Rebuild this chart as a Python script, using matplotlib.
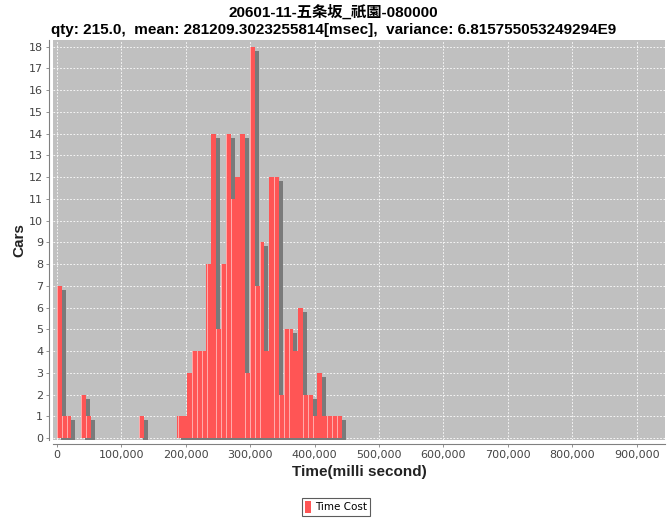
import numpy as np
import matplotlib
matplotlib.use("Agg")
import matplotlib.pyplot as plt
import matplotlib.transforms as mtransforms
from matplotlib.patches import Patch
from matplotlib.ticker import MultipleLocator, FuncFormatter
from matplotlib import font_manager

# ---------------- data ----------------
title1 = "20601-11-五条坂_祇園-080000"
title2 = "qty: 215.0,  mean: 281209.3023255814[msec],  variance: 6.815755053249294E9"
bin_width = 7490          # msec per histogram bin
counts_low = [7, 1, 1, 0, 0, 2, 1, 0, 0, 0, 0, 0, 0, 0, 0, 0, 0, 1, 0, 0,
              0, 0, 0, 0, 0]                                   # bins 0-24
counts_high = [1, 1, 3, 4, 4, 4, 8, 14, 5, 8, 14, 11, 12, 14, 3, 18,
               7, 9, 4, 12, 12, 2, 5, 5, 4, 6, 2, 2, 1, 3, 1, 1, 1, 1]  # bins 25-58
counts = counts_low + counts_high
series_name = "Time Cost"

# ---------------- fonts ----------------
installed = {f.name for f in font_manager.fontManager.ttflist}
narrow = "Liberation Sans Narrow" if "Liberation Sans Narrow" in installed else "Liberation Sans"
title_font = [narrow, "Noto Sans CJK JP", "DejaVu Sans"]

# ---------------- figure ----------------
fig = plt.figure(figsize=(6.67, 5.18), dpi=100)
ax = fig.add_axes([53 / 667, 1 - 440 / 518, 612 / 667, 400 / 518])
ax.set_facecolor("#c0c0c0")

left = np.arange(len(counts)) * bin_width
shadow_tr = mtransforms.offset_copy(ax.transData, fig=fig, x=4, y=-4, units="dots")

shadows = ax.bar(left, counts, width=bin_width, align="edge", color="#7a7a7a",
                 linewidth=0, transform=shadow_tr)
bars = ax.bar(left, counts, width=bin_width, align="edge", color="#ff5555",
              linewidth=0)
stripes = ax.bar(left + bin_width * 0.08, counts, width=bin_width * 0.14, align="edge",
                 color="#ffaaaa", linewidth=0)
for i, (s, b, h) in enumerate(zip(shadows, bars, stripes)):
    s.set_zorder(2 + i * 0.01)
    b.set_zorder(2.004 + i * 0.01)
    h.set_zorder(2.006 + i * 0.01)

ax.set_xlim(-6000, 944000)
ax.set_ylim(-0.09, 18.3)

ax.set_axisbelow(True)
ax.grid(True, color="white", linestyle=(0, (2, 2)), linewidth=0.6)
ax.xaxis.set_major_locator(MultipleLocator(100000))
ax.xaxis.set_major_formatter(FuncFormatter(lambda v, p: f"{int(v):,}"))
ax.yaxis.set_major_locator(MultipleLocator(1))

for side in ["top", "right"]:
    ax.spines[side].set_visible(False)
for side in ["left", "bottom"]:
    ax.spines[side].set_position(("outward", 3))
    ax.spines[side].set_color("#808080")
    ax.spines[side].set_linewidth(0.8)
ax.tick_params(colors="#808080", labelcolor="#444444", labelsize=8, length=2,
               width=0.6, pad=2)

ax.set_xlabel("Time(milli second)", family="Liberation Sans", fontsize=11,
              fontweight="bold", color="#222222", labelpad=4)
ax.set_ylabel("Cars", family="Liberation Sans", fontsize=11,
              fontweight="bold", color="#222222", labelpad=2)

fig.text(0.5, 1 - 12 / 518, title1, ha="center", va="center", family=title_font,
         fontsize=11, fontweight="bold")
fig.text(0.5, 1 - 30 / 518, title2, ha="center", va="center", family=title_font,
         fontsize=11, fontweight="bold")

leg = fig.legend(handles=[Patch(facecolor="#ff5555", label=series_name)],
                 loc="center", bbox_to_anchor=(336 / 667, 1 - 507 / 518),
                 fontsize=7.5, frameon=True, fancybox=False, handlelength=0.5,
                 handleheight=1.3, handletextpad=0.4, borderpad=0.35)
leg.get_frame().set_edgecolor("#333333")
leg.get_frame().set_linewidth(0.8)

fig.savefig("out.png", dpi=100)
